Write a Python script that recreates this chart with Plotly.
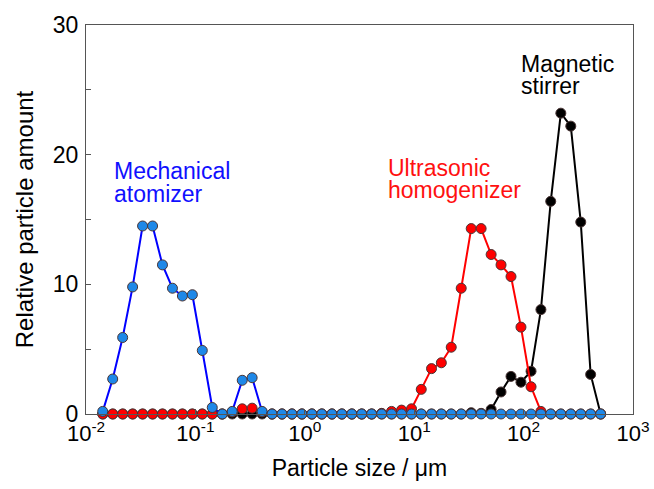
import plotly.graph_objects as go

# Particle size bins (µm)
sizes = [0.01422, 0.01754, 0.02163, 0.02667, 0.0329, 0.0406, 0.0500, 0.0617, 0.0761, 0.0938,
         0.1156, 0.1426, 0.176, 0.217, 0.268, 0.330, 0.407, 0.502, 0.619, 0.763,
         0.941, 1.16, 1.43, 1.77, 2.18, 2.69, 3.31, 4.08, 5.04, 6.21,
         7.66, 9.45, 11.6, 14.4, 17.7, 21.8, 26.9, 33.2, 40.9, 50.5,
         62.2, 76.7, 94.6, 117, 144, 177, 219, 270, 333, 410, 506]

magnetic = [0, 0, 0, 0, 0, 0, 0, 0, 0, 0,
            0, 0, 0, 0, 0, 0, 0, 0, 0, 0,
            0, 0, 0, 0, 0, 0, 0, 0, 0, 0,
            0, 0, 0, 0, 0, 0, 0, 0.1, 0.05, 0.35,
            1.7, 2.9, 2.45, 3.3, 8.05, 16.4, 23.2, 22.2, 14.8, 3.05, 0]

ultrasonic = [0, 0, 0, 0, 0, 0, 0, 0, 0, 0,
              0, 0, 0, 0.15, 0.4, 0.45, 0.15, 0, 0, 0,
              0, 0, 0, 0, 0, 0, 0, 0, 0.05, 0.2,
              0.3, 0.4, 1.9, 3.5, 3.95, 5.15, 9.7, 14.3, 14.3, 12.3,
              11.5, 10.6, 6.7, 2.1, 0.2, 0, 0, 0, 0, 0, 0]

mechanical = [0.2, 2.7, 5.9, 9.8, 14.5, 14.5, 11.5, 9.7, 9.1, 9.2,
              4.9, 0.5, 0, 0.2, 2.6, 2.8, 0.2, 0, 0, 0,
              0, 0, 0, 0, 0, 0, 0, 0, 0, 0,
              0, 0, 0, 0, 0, 0, 0, 0, 0, 0,
              0, 0, 0, 0, 0, 0, 0, 0, 0, 0, 0]

x_tickvals = [0.01, 0.1, 1, 10, 100, 1000]
x_ticktext = ["10<sup>-2</sup>", "10<sup>-1</sup>", "10<sup>0</sup>",
              "10<sup>1</sup>", "10<sup>2</sup>", "10<sup>3</sup>"]

FONT = "Liberation Sans, Arial, sans-serif"
OUTLINE = "#4a3535"
AXIS = "#555555"

fig = go.Figure()

def add_series(y, line_color, fill_color):
    fig.add_trace(go.Scatter(
        x=sizes, y=y, mode="lines+markers",
        line=dict(color=line_color, width=2),
        marker=dict(size=10, color=fill_color, line=dict(color=OUTLINE, width=1)),
        cliponaxis=False, showlegend=False))

add_series(magnetic, "#000000", "#000000")
add_series(ultrasonic, "#ff0000", "#ff0000")
add_series(mechanical, "#0000ff", "#1e88e8")

labels = [
    ("Mechanical", 0.049, 0.625, "#1010ff"),
    ("atomizer", 0.049, 0.566, "#1010ff"),
    ("Ultrasonic", 0.550, 0.632, "#ff1010"),
    ("homogenizer", 0.550, 0.576, "#ff1010"),
    ("Magnetic", 0.793, 0.900, "#000000"),
    ("stirrer", 0.793, 0.843, "#000000"),
]
for text, xp, yp, col in labels:
    fig.add_annotation(text=text, x=xp, y=yp, xref="paper", yref="paper",
                       xanchor="left", yanchor="middle", align="left", showarrow=False,
                       borderpad=0,
                       font=dict(family=FONT, size=23, color=col))

fig.update_layout(
    width=654, height=489, autosize=False,
    margin=dict(l=86, r=21, t=25, b=75, autoexpand=False),
    paper_bgcolor="white", plot_bgcolor="white",
    font=dict(family=FONT, size=22, color="black"),
)
fig.update_xaxes(
    type="log", range=[-2, 3], automargin=False,
    tickvals=x_tickvals, ticktext=x_ticktext,
    ticks="inside", ticklen=5, tickcolor=AXIS,
    showline=True, linecolor=AXIS, linewidth=1, mirror=True,
    showgrid=False, zeroline=False,
    tickfont=dict(size=22),
    title=dict(text="Particle size / μm", font=dict(size=23), standoff=14),
)
fig.update_yaxes(
    range=[0, 30], tickvals=[0, 10, 20, 30], automargin=False,
    ticks="inside", ticklen=5, tickcolor=AXIS,
    minor=dict(tickvals=[5, 15, 25], ticks="inside", ticklen=5, tickcolor=AXIS),
    showline=True, linecolor=AXIS, linewidth=1, mirror=True,
    showgrid=False, zeroline=False,
    tickfont=dict(size=23),
    ticklabelstandoff=2,
    title=dict(text="Relative particle amount", font=dict(size=24), standoff=12),
)

fig.write_html(
    "out.html",
    config={"responsive": False, "displayModeBar": False},
    post_script="document.body.style.margin='0px';document.body.style.overflow='hidden';",
)
